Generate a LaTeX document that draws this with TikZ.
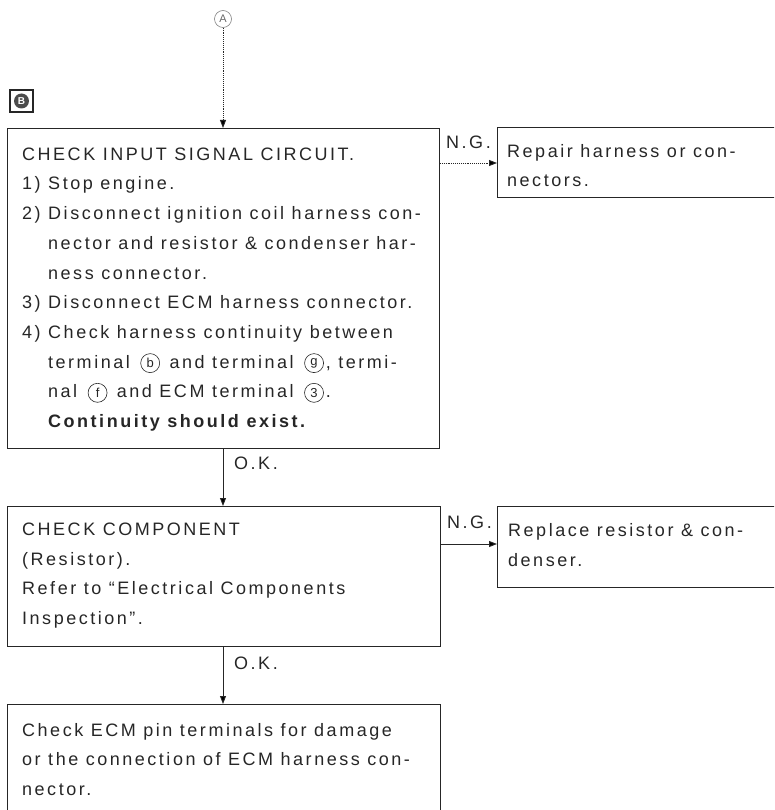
\documentclass[tikz,border=0pt]{standalone}
\usepackage{fontspec}
\setmainfont{Liberation Sans}[LetterSpace=14.0]
\usetikzlibrary{arrows.meta}
\newcommand{\circsym}[1]{\hspace{3pt}\tikz[baseline={([yshift=-5pt]cc.center)}]\node[circle, draw=black!85, line width=0.6pt, inner sep=0pt, minimum size=19pt, text=black!85, font=\fontsize{13}{13}\selectfont] (cc) {#1};\hspace{2pt}}
\begin{document}
\begin{tikzpicture}[x=1pt,y=-1pt,
  boxshape/.style={draw=black!85, line width=0.9pt, rectangle, anchor=north west, inner sep=0pt},
  textblock/.style={align=left, inner sep=0pt, text=black!85, font=\fontsize{18}{29.7}\selectfont},
  lbl/.style={inner sep=0pt, text=black!85, font=\fontsize{18}{20}\selectfont, anchor=west},
  conn/.style={draw=black!85, line width=0.9pt, -{Triangle[length=8pt,width=6pt]}},
  faint/.style={conn, densely dotted}
]
\useasboundingbox (0,0) rectangle (774,810);
\clip (0,0) rectangle (774,810);

% marker A
\node[circle, draw=black!50, line width=0.6pt, inner sep=0.5pt, minimum size=17pt, text=black!60, font=\fontsize{11}{11}\selectfont] (A) at (223,19) {A};

% marker B
\node[rectangle, draw=black!85, line width=1.3pt, minimum width=23pt, minimum height=22pt] (Bsq) at (21.5,101) {};
\node[circle, fill=black!70, inner sep=0pt, minimum size=15pt, text=white, font=\bfseries\fontsize{10}{10}\selectfont] (Bc) at (Bsq.center) {B};

% boxes
\node[boxshape, minimum width=432pt, minimum height=320pt] (b1) at (7,128) {};
\node[boxshape, minimum width=300pt, minimum height=70pt] (b2) at (497,127) {};
\node[boxshape, minimum width=433pt, minimum height=140pt] (b3) at (7,506) {};
\node[boxshape, minimum width=300pt, minimum height=81pt] (b4) at (497,506) {};
\node[rectangle, anchor=north west, inner sep=0pt, minimum width=433pt, minimum height=200pt] (b5) at (7,704) {};
\draw[draw=black!85, line width=0.9pt] (b5.south west) -- (b5.north west) -- (b5.north east) -- (b5.south east);

% texts
\node[textblock, anchor=west] (t1) at ([xshift=15pt,yshift=-1pt]b1.west) {%
CHECK INPUT SIGNAL CIRCUIT.\\
1) Stop engine.\\
2) Disconnect ignition coil harness con-\\
\hspace*{26pt}nector and resistor \& condenser har-\\
\hspace*{26pt}ness connector.\\
3) Disconnect ECM harness connector.\\
4) Check harness continuity between\\
\hspace*{26pt}terminal \circsym{b} and terminal \circsym{g}, termi-\\
\hspace*{26pt}nal \circsym{f} and ECM terminal \circsym{3}.\\
\hspace*{26pt}\textbf{Continuity should exist.}};

\node[textblock, anchor=west] (t2) at ([xshift=10pt,yshift=-3pt]b2.west) {%
Repair harness or con-\\
nectors.};

\node[textblock, anchor=west] (t3) at ([xshift=15pt,yshift=1pt]b3.west) {%
CHECK COMPONENT\\
(Resistor).\\
Refer to ``Electrical Components\\
Inspection''.};

\node[textblock, anchor=west] (t4) at ([xshift=11pt,yshift=2pt]b4.west) {%
Replace resistor \& con-\\
denser.};

\node[textblock, anchor=north west] (t5) at (22,723) {%
Check ECM pin terminals for damage\\
or the connection of ECM harness con-\\
nector.};

% connectors
\draw[faint] (A.south) -- (A.south |- b1.north);
\coordinate (r1) at (b1.east |- 0,163);
\draw[faint] (r1) -- (r1 -| b2.west);
\draw[conn] (b1.south -| 223,0) -- (b3.north -| 223,0);
\coordinate (r3) at (b3.east |- 0,544);
\draw[conn] (r3) -- (r3 -| b4.west);
\draw[conn] (b3.south -| 223,0) -- (b5.north -| 223,0);

% labels
\node[lbl] (ng1) at (446,142) {N.G.};
\node[lbl] (ng2) at (447,522) {N.G.};
\node[lbl] (ok1) at (234,463) {O.K.};
\node[lbl] (ok2) at (234,663) {O.K.};
\end{tikzpicture}
\end{document}
